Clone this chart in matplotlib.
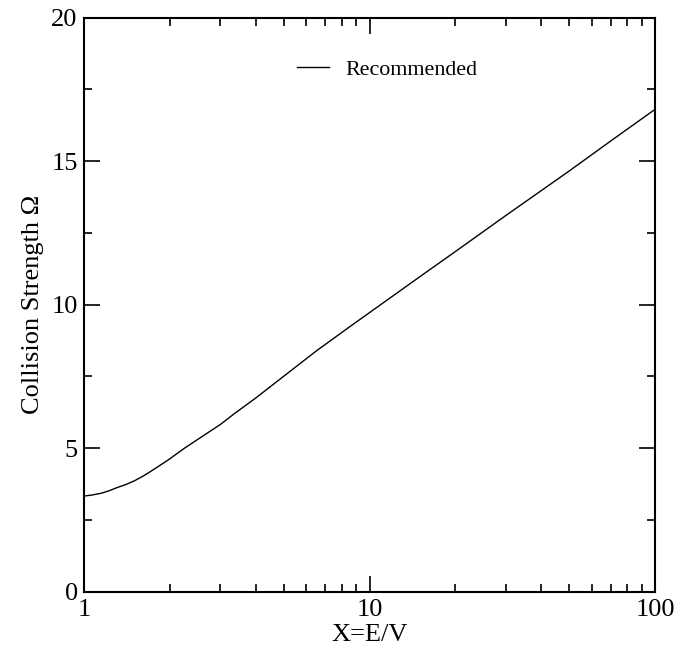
import matplotlib
matplotlib.use("Agg")
import matplotlib.pyplot as plt
from matplotlib.ticker import LogLocator, MultipleLocator, FixedLocator, FixedFormatter, NullFormatter

# Collision strength versus scaled energy
energy_ratio = [1.0, 1.07, 1.15, 1.22, 1.3, 1.4, 1.5, 1.6, 1.7, 1.96, 2.25, 2.56,
                3.0, 3.35, 4.0, 5.0, 6.5, 8.5, 10.0, 15.0, 20.0, 30.0, 50.0,
                70.0, 100.0]
omega = [3.33, 3.37, 3.43, 3.51, 3.62, 3.73, 3.86, 4.01, 4.17, 4.57, 5.0, 5.37,
         5.82, 6.19, 6.75, 7.5, 8.38, 9.22, 9.72, 10.97, 11.85, 13.1, 14.65,
         15.7, 16.8]
series_label = "Recommended"

x_major = [1, 10, 100]
x_major_labels = ["1", "10", "100"]

plt.rcParams["font.family"] = ["Liberation Serif", "DejaVu Serif"]

fig = plt.figure(figsize=(6.8, 6.55), dpi=100)
ax = fig.add_axes([84 / 680, 1 - 591.7 / 655, (655 - 84) / 680, (591.7 - 17.5) / 655])

ax.plot(energy_ratio, omega, color="black", lw=1.0, label=series_label)

ax.set_xscale("log")
ax.set_xlim(1, 100)
ax.set_ylim(0, 20)

ax.xaxis.set_major_locator(FixedLocator(x_major))
ax.xaxis.set_major_formatter(FixedFormatter(x_major_labels))
ax.xaxis.set_minor_locator(LogLocator(base=10, subs=range(2, 10)))
ax.xaxis.set_minor_formatter(NullFormatter())
ax.yaxis.set_major_locator(MultipleLocator(5))
ax.yaxis.set_minor_locator(MultipleLocator(2.5))

for s in ax.spines.values():
    s.set_linewidth(1.5)

ax.tick_params(which="both", direction="in", top=True, right=True, width=1.2,
               labelsize=19)
ax.tick_params(which="major", length=11.5)
ax.tick_params(which="minor", length=5.8)
ax.tick_params(axis="y", pad=4.5)
ax.tick_params(axis="x", pad=5)

ax.set_xlabel("X=E/V", fontsize=19, labelpad=2.5)
ax.set_ylabel("Collision Strength Ω", fontsize=19, labelpad=5)

ax.legend(loc="center", bbox_to_anchor=(0.531, 0.909), frameon=False,
          fontsize=15.8, handlelength=1.45, handletextpad=0.75)

fig.savefig("out.png", dpi=100)
